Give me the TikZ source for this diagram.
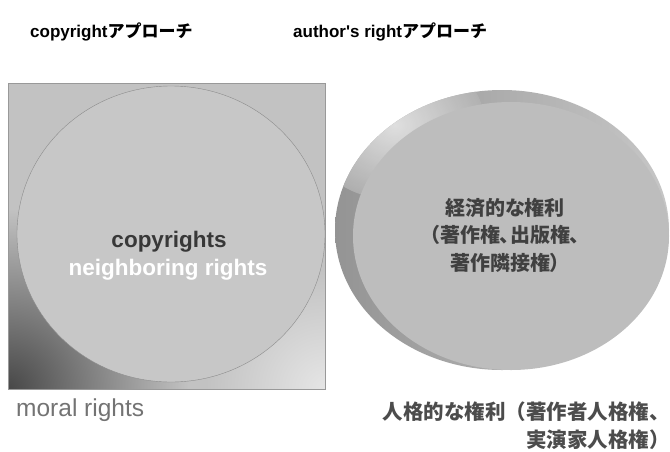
\documentclass[tikz,border=0pt]{standalone}
\usepackage{fontspec}
\usetikzlibrary{shadings}
\setmainfont{Liberation Sans}
\newfontfamily\jp{Noto Sans CJK JP}
\newfontfamily\jpp[RawFeature=+palt]{Noto Sans CJK JP}
\begin{document}
\begin{tikzpicture}[x=1pt,y=-1pt,
  title/.style={font=\bfseries\fontsize{17}{20}\selectfont, anchor=west, inner sep=0},
  inlabel/.style={font=\bfseries\fontsize{22.5}{25}\selectfont, inner sep=0, align=center},
  jplabel/.style={font=\jpp\bfseries\fontsize{20}{27.5}\selectfont, inner sep=0, align=center},
  outlabel/.style={font=\fontsize{24.5}{27}\selectfont, inner sep=0, text=black!55}]
\useasboundingbox (0,0) rectangle (670,451);
% left square
\fill[black!24] (8,83) rectangle (325,389);
\begin{scope}
\clip (8,83) rectangle (325,389);
\shade[inner color=black!72, outer color=black!24] (8,389) circle (180);
\shade[inner color=black!10, outer color=black!24] (325,389) circle (120);
\end{scope}
\draw[black!40, line width=0.6pt] (8,83) rectangle (325,389);
\fill[black!22] (171,234) ellipse [x radius=154, y radius=148];
\draw[black!45, line width=0.4pt] (171,234) ellipse [x radius=154, y radius=148];
% right ellipses
\begin{scope}
\clip (502,230) ellipse [x radius=167, y radius=140];
\shade[left color=black!42, right color=black!22] (335,90) rectangle (670,370);
\shade[inner color=black!8, outer color=black!30, opacity=0.85] (395,125) ellipse [x radius=90, y radius=75];
\end{scope}
\fill[black!26] (511,236) ellipse [x radius=158, y radius=134];
% texts
\node[title] (t1) at (30,32) {copyright{\jp アプローチ}};
\node[title] (t2) at (293,32) {author\textquotesingle s right{\jp アプローチ}};
\node[inlabel, text=black!78] (c1) at (169,242) {copyrights};
\node[inlabel, text=white] (c2) at (168,270) {neighboring rights};
\node[outlabel, anchor=west] (m1) at (16,410) {moral rights};
\node[jplabel, text=black!75] (e1) at (505,235) {経済的な権利\\（著作権、出版権、\\著作隣接権）};
\node[font=\jp\bfseries\fontsize{20.5}{28}\selectfont, text=black!70, inner sep=0, align=right, anchor=north east] (p1) at (670,402) {人格的な権利（著作者人格権、\\実演家人格権）};
\end{tikzpicture}
\end{document}
